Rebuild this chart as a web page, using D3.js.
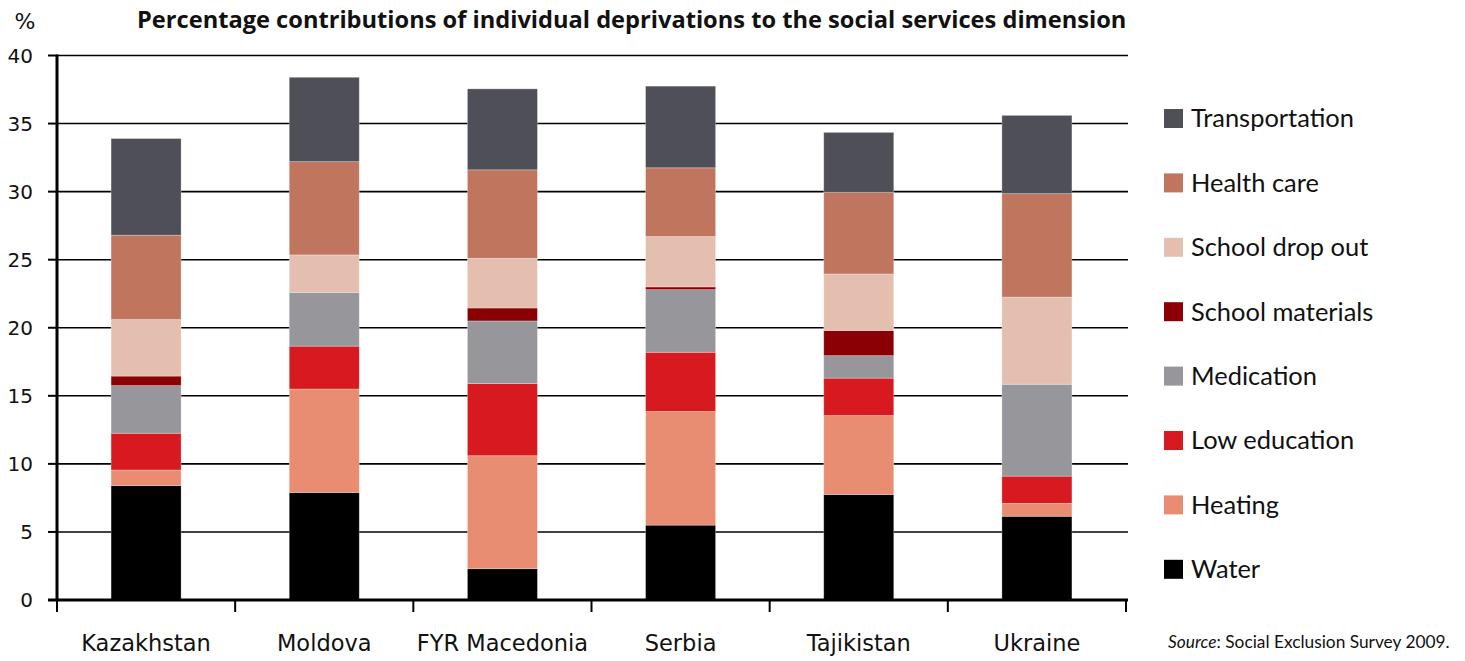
<!DOCTYPE html>
<html>
<head>
<meta charset="utf-8">
<script src="https://cdn.jsdelivr.net/npm/d3@7"></script>
<style>
  body { margin: 0; background: #fff; }
  svg text { fill: #111; }
</style>
</head>
<body>
<div id="chart"></div>
<script>
// stacked bars: contributions of deprivations to social services dimension

const countries = ['Kazakhstan', 'Moldova', 'FYR Macedonia', 'Serbia', 'Tajikistan', 'Ukraine'];

// series values, bottom of stack first
const water           = [8.4, 7.9, 2.3, 5.5, 7.75, 6.15];
const heating         = [1.15, 7.6, 8.3, 8.35, 5.8, 0.95];
const lowEducation    = [2.7, 3.15, 5.3, 4.35, 2.75, 2.0];
const medication      = [3.5, 3.95, 4.6, 4.6, 1.65, 6.75];
const schoolMaterials = [0.7, 0.0, 0.95, 0.2, 1.85, 0.0];
const schoolDropOut   = [4.15, 2.75, 3.65, 3.7, 4.15, 6.4];
const healthCare      = [6.2, 6.85, 6.5, 5.05, 6.0, 7.6];
const transportation  = [7.1, 6.2, 5.95, 6.0, 4.4, 5.75];

const seriesNames = ['Water', 'Heating', 'Low education', 'Medication',
	'School materials', 'School drop out', 'Health care', 'Transportation'];
const seriesValues = [water, heating, lowEducation, medication,
	schoolMaterials, schoolDropOut, healthCare, transportation];
const seriesColors = ['#000000', '#e88d72', '#d71920', '#96969b',
	'#8b0004', '#e4bfb0', '#c0765e', '#4f4f58'];

const yTicks = [0, 5, 10, 15, 20, 25, 30, 35, 40];

const titleText = 'Percentage contributions of individual deprivations to the social services dimension';

const W = 1465, H = 661;
const m = {left: 57, right: 339, top: 55.5, bottom: 58.5};

// build table for d3.stack
const table = countries.map((c, i) => {
	const row = {country: c};
	seriesNames.forEach((s, j) => row[s] = seriesValues[j][i]);
	return row;
});

const svg = d3.select('#chart').append('svg')
	.attr('width', W).attr('height', H)
	.style('font-family', 'DejaVu Sans, sans-serif');

const x = d3.scaleBand()
	.domain(countries)
	.range([m.left, W - m.right])
	.paddingInner(0.607)
	.paddingOuter(0.3035);

const y = d3.scaleLinear()
	.domain([0, 40])
	.range([H - m.bottom - 2.5, m.top]);

const color = d3.scaleOrdinal().domain(seriesNames).range(seriesColors);

// shrink/grow a text node so it spans the wanted width
function fitText(sel, width) {
	const node = sel.node();
	const size = parseFloat(sel.style('font-size'));
	const len = node.getComputedTextLength();
	sel.style('font-size', (size * width / len) + 'px');
}

// gridlines
svg.append('g').attr('class', 'grid')
	.selectAll('line')
	.data(yTicks.filter(d => d > 0))
	.join('line')
		.attr('x1', m.left)
		.attr('x2', W - m.right + 2)
		.attr('y1', d => y(d))
		.attr('y2', d => y(d))
		.attr('stroke', '#000')
		.attr('stroke-width', 1.6);

// stacked bars
const stacked = d3.stack().keys(seriesNames)(table);

svg.append('g').attr('class', 'bars')
	.selectAll('g')
	.data(stacked)
	.join('g')
		.attr('fill', d => color(d.key))
	.selectAll('rect')
	.data(d => d)
	.join('rect')
		.attr('x', d => x(d.data.country))
		.attr('width', x.bandwidth())
		.attr('y', d => y(d[1]))
		.attr('height', d => Math.max(0, y(d[0]) - y(d[1])))
		.attr('stroke', '#ffffff')
		.attr('stroke-opacity', 0.35)
		.attr('stroke-width', 0.8);

// y axis
const yAxis = svg.append('g').attr('class', 'y axis');
yAxis.append('line')
	.attr('x1', m.left).attr('x2', m.left)
	.attr('y1', y(40) - 1).attr('y2', y(0) + 1)
	.attr('stroke', '#000').attr('stroke-width', 3);
yAxis.selectAll('.tick')
	.data(yTicks)
	.join('line')
		.attr('class', 'tick')
		.attr('x1', m.left - 9).attr('x2', m.left)
		.attr('y1', d => y(d)).attr('y2', d => y(d))
		.attr('stroke', '#000').attr('stroke-width', 2);
yAxis.selectAll('text')
	.data(yTicks)
	.join('text')
		.attr('x', 33)
		.attr('y', d => y(d))
		.attr('dy', '0.36em')
		.attr('text-anchor', 'end')
		.style('font-size', '20px')
		.text(d => d);

// x axis
const xAxis = svg.append('g').attr('class', 'x axis');
xAxis.append('line')
	.attr('x1', m.left - 9).attr('x2', W - m.right + 2)
	.attr('y1', y(0)).attr('y2', y(0))
	.attr('stroke', '#000').attr('stroke-width', 3);
xAxis.selectAll('.tick')
	.data(d3.range(countries.length + 1))
	.join('line')
		.attr('class', 'tick')
		.attr('x1', i => x.range()[0] + i * x.step())
		.attr('x2', i => x.range()[0] + i * x.step())
		.attr('y1', y(0))
		.attr('y2', y(0) + 12)
		.attr('stroke', '#000').attr('stroke-width', 2);
xAxis.selectAll('text')
	.data(countries)
	.join('text')
		.attr('x', d => x(d) + x.bandwidth() / 2)
		.attr('y', 651)
		.attr('text-anchor', 'middle')
		.style('font-size', '22.5px')
		.text(d => d);

// percent label
svg.append('text')
	.attr('x', 25).attr('y', 29)
	.attr('text-anchor', 'middle')
	.style('font-size', '22px')
	.text('%');

// title
const title = svg.append('text')
	.attr('x', 137).attr('y', 28)
	.style('font-family', 'Open Sans, sans-serif')
	.style('font-weight', 'bold')
	.style('font-size', '22px')
	.text(titleText);
fitText(title, 990);

// legend, top entry is last series
const legendOrder = seriesNames.slice().reverse();
const legend = svg.append('g').attr('class', 'legend')
	.selectAll('g')
	.data(legendOrder)
	.join('g')
		.attr('transform', (d, i) => 'translate(1164,' + (118.5 + i * 64.4) + ')');
legend.append('rect')
	.attr('x', 0).attr('y', -9.5)
	.attr('width', 19).attr('height', 19)
	.attr('fill', d => color(d));
legend.append('text')
	.attr('x', 27).attr('y', 0)
	.attr('dy', '0.35em')
	.style('font-family', 'Lato, sans-serif')
	.style('font-size', '24px')
	.text(d => d);
fitText(legend.filter((d, i) => i == 0).select('text'), 163);
const legendSize = legend.filter((d, i) => i == 0).select('text').style('font-size');
legend.selectAll('text').style('font-size', legendSize);

// source note
const source = svg.append('text')
	.attr('x', 1168).attr('y', 648)
	.style('font-family', 'Lato, sans-serif')
	.style('font-size', '18px');
source.append('tspan').style('font-style', 'italic').text('Source');
source.append('tspan').text(': Social Exclusion Survey 2009.');
fitText(source, 282);
</script>
</body>
</html>
